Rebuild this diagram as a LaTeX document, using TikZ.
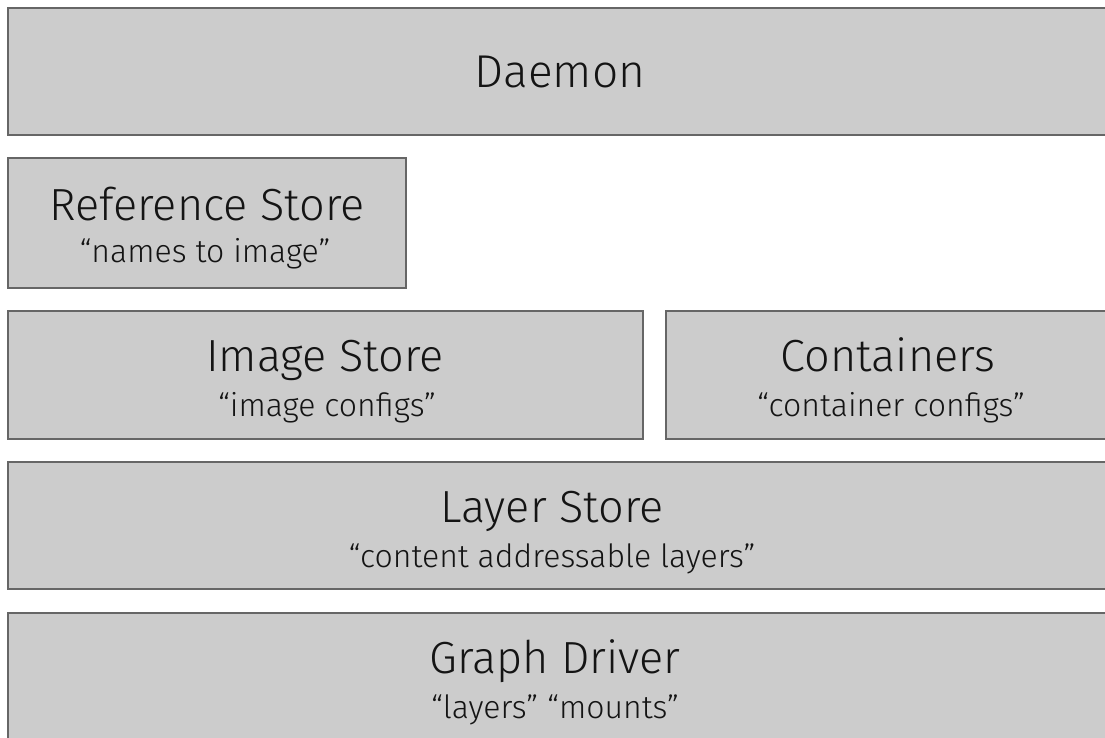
\documentclass[tikz,border=0pt]{standalone}
\usepackage{fontspec}
\setmainfont{Fira Sans}[UprightFont=* Light]
\definecolor{boxfill}{HTML}{CCCCCC}
\definecolor{boxedge}{HTML}{666666}
\begin{document}
\begin{tikzpicture}[x=1pt,y=-1pt,
  layer/.style={draw=boxedge,fill=boxfill,line width=2pt,inner sep=0pt,anchor=north west},
  title/.style={anchor=base,inner sep=0pt,font=\fontsize{45}{45}\selectfont,text=black!92},
  bigtitle/.style={title,font=\fontsize{46}{46}\selectfont},
  subtitle/.style={anchor=base,inner sep=0pt,font=\fontsize{32}{32}\selectfont,text=black!92}]
\useasboundingbox (0,0) rectangle (1105,738);
\clip (0,0) rectangle (1105,738);
\fill[white] (0,0) rectangle (1105,738);

% stacked component boxes (some run past the right and bottom edges)
\node[layer,minimum width=1140pt,minimum height=127pt] (daemon) at (7,7) {};
\node[layer,minimum width=398pt,minimum height=130pt] (refstore) at (7,157) {};
\node[layer,minimum width=635pt,minimum height=128pt] (imgstore) at (7,310) {};
\node[layer,minimum width=480pt,minimum height=128pt] (containers) at (665,310) {};
\node[layer,minimum width=1140pt,minimum height=127pt] (layerstore) at (7,461) {};
\node[layer,minimum width=1140pt,minimum height=160pt] (graphdriver) at (7,612) {};

% labels
\node[bigtitle] (daemonT) at (560,88) {Daemon};
\node[title] (refT) at (207,220) {Reference Store};
\node[subtitle] (refS) at (205,262) {“names to image”};
\node[title] (imgT) at (325,371) {Image Store};
\node[subtitle] (imgS) at (327,416) {“image configs”};
\node[title] (conT) at (888,371) {Containers};
\node[subtitle] (conS) at (891,416) {“container configs”};
\node[title] (layT) at (552,522) {Layer Store};
\node[subtitle] (layS) at (552,567) {“content addressable layers”};
\node[title] (gdT) at (555,673) {Graph Driver};
\node[subtitle] (gdS) at (555,718) {“layers” “mounts”};
\end{tikzpicture}
\end{document}
